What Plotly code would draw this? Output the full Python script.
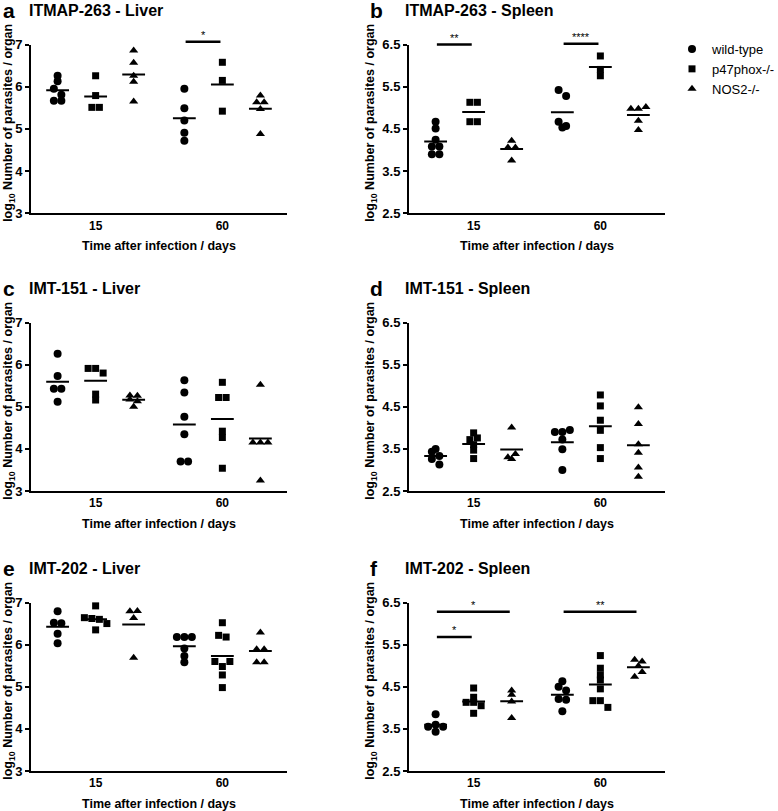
import math
import plotly.graph_objects as go

W, H = 778, 811
FONT = "Liberation Sans, Arial, sans-serif"

genotypes = ["wild-type", "p47phox-/-", "NOS2-/-"]
symbols = ["circle", "square", "triangle-up"]
marker_sizes = [8, 7, 8]
day_labels = ["15", "60"]
group_offsets = [-0.3, 0.0, 0.3]

panel_letters = ["a", "b", "c", "d", "e", "f"]
panel_titles = ["ITMAP-263 - Liver", "ITMAP-263 - Spleen",
                "IMT-151 - Liver", "IMT-151 - Spleen",
                "IMT-202 - Liver", "IMT-202 - Spleen"]

liver_ticks = [3, 4, 5, 6, 7]
spleen_ticks = [2.5, 3.5, 4.5, 5.5, 6.5]

# values: [day 15 list, day 60 list]  (log10 parasites / organ)
itmap_liver_wt = [[6.13, 6.26, 5.95, 5.81, 5.67, 5.67], [5.95, 5.49, 5.20, 4.91, 4.72]]
itmap_liver_p47 = [[6.26, 5.79, 5.51, 5.51], [6.58, 6.15, 5.42]]
itmap_liver_nos2 = [[6.86, 6.57, 6.26, 6.12, 5.65], [5.79, 5.63, 5.63, 5.47, 4.88]]

itmap_spleen_wt = [[4.51, 4.67, 4.24, 4.08, 4.08, 3.90, 3.90], [5.42, 5.28, 4.67, 4.53, 4.57]]
itmap_spleen_p47 = [[5.13, 5.13, 4.67, 4.67], [6.23, 5.76, 5.91]]
itmap_spleen_nos2 = [[4.22, 4.06, 4.06, 3.75], [4.98, 4.98, 5.02, 4.69, 4.47]]

imt151_liver_wt = [[6.26, 5.73, 5.43, 5.43, 5.12], [5.63, 5.34, 4.76, 4.35, 3.70, 3.70]]
imt151_liver_p47 = [[5.91, 5.91, 5.80, 5.16, 5.30], [5.58, 5.22, 5.22, 4.42, 4.27, 3.54]]
imt151_liver_nos2 = [[5.27, 5.26, 5.17, 5.13, 5.00], [5.52, 4.15, 4.15, 4.15, 3.25]]

imt151_spleen_wt = [[3.50, 3.43, 3.33, 3.26, 3.13], [3.90, 3.90, 3.95, 3.72, 3.49, 3.00]]
imt151_spleen_p47 = [[3.88, 3.72, 3.76, 3.60, 3.47, 3.27], [4.78, 4.52, 4.18, 3.94, 3.53, 3.27]]
imt151_spleen_nos2 = [[4.01, 3.30, 3.26, 3.38], [4.49, 4.09, 3.61, 3.41, 3.06, 2.84]]

imt202_liver_wt = [[6.79, 6.52, 6.51, 6.26, 6.03], [6.18, 6.18, 6.18, 5.91, 5.73, 5.58]]
imt202_liver_p47 = [[6.92, 6.64, 6.62, 6.60, 6.50, 6.35], [6.52, 6.22, 6.18, 5.60, 5.48, 5.60, 5.28, 4.98]]
imt202_liver_nos2 = [[6.79, 6.80, 6.63, 5.69], [6.29, 5.89, 5.89, 5.58, 5.58]]

imt202_spleen_wt = [[3.85, 3.55, 3.60, 3.55, 3.43], [4.50, 4.63, 4.41, 4.21, 4.19, 3.92]]
imt202_spleen_p47 = [[4.47, 4.25, 4.13, 4.13, 4.05, 3.87], [5.24, 4.94, 4.78, 4.66, 4.45, 4.17, 4.17, 4.01]]
imt202_spleen_nos2 = [[4.41, 4.31, 4.15, 3.76], [5.14, 5.10, 4.99, 4.74, 4.85]]

# significance: (panel index, day index, from group, to group, bar level, label)
sig_panel = [0, 1, 1, 5, 5, 5]
sig_day = [1, 0, 1, 0, 0, 1]
sig_from = [0, 0, 0, 0, 0, 0]
sig_to = [1, 1, 1, 2, 1, 2]
sig_level = [7.07, 6.5, 6.52, 6.28, 5.68, 6.28]
sig_label = ["*", "**", "****", "*", "*", "**"]

panel_data = [
    [itmap_liver_wt, itmap_liver_p47, itmap_liver_nos2],
    [itmap_spleen_wt, itmap_spleen_p47, itmap_spleen_nos2],
    [imt151_liver_wt, imt151_liver_p47, imt151_liver_nos2],
    [imt151_spleen_wt, imt151_spleen_p47, imt151_spleen_nos2],
    [imt202_liver_wt, imt202_liver_p47, imt202_liver_nos2],
    [imt202_spleen_wt, imt202_spleen_p47, imt202_spleen_nos2],
]

# ---- layout geometry (pixels) ----
row_tops = [44.6, 322.5, 602.5]
plot_h = 168.5
col_lefts = [31, 409]
plot_w = 256
x_range = [0.49, 2.51]

fig = go.Figure()
annotations = []
shapes = []


def swarm(values, ppu_y, ppu_x, d=7.5):
    bins = {}
    for i, v in enumerate(values):
        b = math.floor(v * ppu_y / d + 0.5)
        bins.setdefault(b, []).append(i)
    offs = [0.0] * len(values)
    for b, idxs in bins.items():
        n = len(idxs)
        for k, i in enumerate(idxs):
            offs[i] = (k - (n - 1) / 2) * d / ppu_x
    return offs


for p in range(6):
    r, c = p // 2, p % 2
    is_liver = (c == 0)
    yr = [3, 7] if is_liver else [2.5, 6.5]
    ticks = liver_ticks if is_liver else spleen_ticks
    ax = "" if p == 0 else str(p + 1)
    xd = [col_lefts[c] / W, (col_lefts[c] + plot_w) / W]
    yd = [1 - (row_tops[r] + plot_h) / H, 1 - row_tops[r] / H]
    ppu_y = plot_h / (yr[1] - yr[0])
    ppu_x = plot_w / (x_range[1] - x_range[0])

    fig.update_layout(**{
        "xaxis" + ax: dict(domain=xd, range=x_range, anchor="y" + ax,
                           tickvals=[1, 2], ticktext=day_labels, ticks="",
                           showline=True, linecolor="black", linewidth=2,
                           showgrid=False, zeroline=False, automargin=False,
                           tickfont=dict(family=FONT, size=12, color="black", weight="bold")),
        "yaxis" + ax: dict(domain=yd, range=yr, anchor="x" + ax,
                           tickvals=ticks, ticktext=[str(t) for t in ticks],
                           ticks="outside", ticklen=4, tickwidth=2, tickcolor="black",
                           showline=True, linecolor="black", linewidth=2,
                           showgrid=False, zeroline=False, automargin=False,
                           tickfont=dict(family=FONT, size=13, color="black", weight="bold")),
    })

    for g in range(3):
        xs, ys = [], []
        for dd in range(2):
            vals = panel_data[p][g][dd]
            center = dd + 1 + group_offsets[g]
            offs = swarm(vals, ppu_y, ppu_x)
            xs += [center + o for o in offs]
            ys += vals
            mean = sum(vals) / len(vals)
            fig.add_trace(go.Scatter(
                x=[center - 0.09, center + 0.09], y=[mean, mean], mode="lines",
                line=dict(color="black", width=2), showlegend=False,
                hoverinfo="skip", xaxis="x" + ax, yaxis="y" + ax))
        fig.add_trace(go.Scatter(
            x=xs, y=ys, mode="markers", name=genotypes[g], legendgroup=genotypes[g],
            showlegend=(p == 0),
            marker=dict(symbol=symbols[g], size=marker_sizes[g], color="black"),
            xaxis="x" + ax, yaxis="y" + ax, cliponaxis=False))

    # panel letter and title
    ty = 1 - (row_tops[r] - 34) / H
    annotations.append(dict(x=(1 if c == 0 else 368) / W, y=ty, xref="paper", yref="paper",
                            text="<b>" + panel_letters[p] + "</b>", showarrow=False,
                            xanchor="left", yanchor="middle",
                            font=dict(family=FONT, size=21, color="black")))
    annotations.append(dict(x=(27 if c == 0 else 403) / W, y=ty, xref="paper", yref="paper",
                            text="<b>" + panel_titles[p] + "</b>", showarrow=False,
                            xanchor="left", yanchor="middle",
                            font=dict(family=FONT, size=16, color="black")))
    # axis titles
    annotations.append(dict(x=(col_lefts[c] + plot_w / 2) / W,
                            y=1 - (row_tops[r] + plot_h + 33) / H, xref="paper", yref="paper",
                            text="<b>Time after infection / days</b>", showarrow=False,
                            xanchor="center", yanchor="middle",
                            font=dict(family=FONT, size=12.5, color="black")))
    annotations.append(dict(x=(9 if c == 0 else 371) / W,
                            y=1 - (row_tops[r] + plot_h / 2 - 6) / H, xref="paper", yref="paper",
                            text="<b>log<sub>10</sub> Number of parasites / organ</b>",
                            showarrow=False, textangle=-90,
                            xanchor="center", yanchor="middle",
                            font=dict(family=FONT, size=12.5, color="black")))

# significance bars (paper coordinates so they may extend above the axis)
for i in range(len(sig_panel)):
    p = sig_panel[i]
    r, c = p // 2, p % 2
    yr = [3, 7] if c == 0 else [2.5, 6.5]
    x0d = sig_day[i] + 1 + group_offsets[sig_from[i]] + 0.01
    x1d = sig_day[i] + 1 + group_offsets[sig_to[i]] - 0.015

    def xp(v):
        return (col_lefts[c] + (v - x_range[0]) / (x_range[1] - x_range[0]) * plot_w) / W

    yp = 1 - (row_tops[r] + (yr[1] - sig_level[i]) / (yr[1] - yr[0]) * plot_h) / H
    shapes.append(dict(type="line", xref="paper", yref="paper", x0=xp(x0d), x1=xp(x1d),
                       y0=yp, y1=yp, line=dict(color="black", width=2.5)))
    annotations.append(dict(x=(xp(x0d) + xp(x1d)) / 2, y=yp, xref="paper", yref="paper",
                            text=sig_label[i], showarrow=False, xanchor="center",
                            yanchor="bottom", yshift=-1,
                            font=dict(family=FONT, size=11, color="black")))

fig.update_layout(
    width=W, height=H,
    margin=dict(l=0, r=0, t=0, b=0, autoexpand=False),
    paper_bgcolor="white", plot_bgcolor="white",
    annotations=annotations, shapes=shapes,
    showlegend=True,
    legend=dict(x=672 / W, y=1 - 34 / H, xanchor="left", yanchor="top",
                font=dict(family=FONT, size=13, color="black"),
                bgcolor="rgba(0,0,0,0)", tracegroupgap=0),
)

fig.write_html("out.html", config={"displayModeBar": False},
               post_script="document.body.style.margin='0';document.body.style.overflow='hidden';")
